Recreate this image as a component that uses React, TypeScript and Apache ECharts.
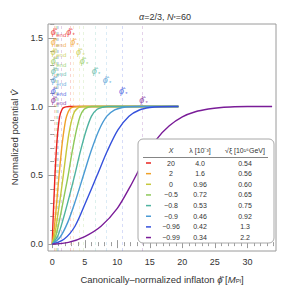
import React, { useEffect, useRef } from "react";
import * as echarts from "echarts";

// ---- data ----
const curveColors = ["#e8231f", "#f0a128", "#c5c83c", "#8ec95a", "#4fb3a0", "#4a9ad4", "#3551dc", "#7a1c98"];

const curveRed = [[0, 0], [0.1, 0.14], [0.21, 0.27], [0.32, 0.39], [0.42, 0.5], [0.63, 0.68], [0.84, 0.81], [1.05, 0.9], [1.26, 0.95], [1.47, 0.975], [1.68, 0.99], [2.1, 0.998], [2.6, 1], [19.4, 1]];
const curveOrange = [[0, 0], [0.26, 0.09], [0.53, 0.22], [0.79, 0.36], [1.05, 0.5], [1.31, 0.63], [1.58, 0.75], [1.84, 0.84], [2.1, 0.91], [2.36, 0.95], [2.63, 0.975], [2.89, 0.99], [3.36, 0.998], [4, 1], [19.4, 1]];
const curveYellow = [[0, 0], [0.43, 0.08], [0.85, 0.21], [1.28, 0.35], [1.7, 0.5], [2.13, 0.66], [2.55, 0.8], [2.98, 0.9], [3.4, 0.96], [3.83, 0.985], [4.25, 0.996], [4.8, 1], [19.4, 1]];
const curveGreen = [[0, 0], [0.61, 0.07], [1.23, 0.2], [1.84, 0.35], [2.45, 0.5], [3.06, 0.67], [3.68, 0.82], [4.29, 0.93], [4.9, 0.98], [5.5, 0.995], [6.1, 1], [19.4, 1]];
const curveTeal = [[0, 0], [0.86, 0.06], [1.73, 0.19], [2.59, 0.34], [3.45, 0.5], [4.31, 0.67], [5.18, 0.82], [6.04, 0.93], [6.9, 0.98], [7.76, 0.995], [8.6, 1], [19.4, 1]];
const curveLightBlue = [[0, 0], [1.2, 0.05], [2.4, 0.16], [3.6, 0.32], [4.8, 0.5], [6.0, 0.68], [7.2, 0.83], [8.4, 0.93], [9.6, 0.975], [10.8, 0.993], [12, 0.999], [13.4, 1], [19.4, 1]];
const curveBlue = [[0, 0], [1.8, 0.035], [3.5, 0.13], [5.2, 0.31], [6.9, 0.5], [8.5, 0.68], [10.1, 0.83], [11.8, 0.93], [13.4, 0.975], [15.0, 0.993], [16.7, 0.999], [18.8, 1], [19.4, 1]];
const curvePurple = [[0, 0], [2.5, 0.013], [5, 0.055], [7.5, 0.13], [10, 0.26], [12, 0.42], [14, 0.6], [16, 0.76], [18, 0.86], [20, 0.925], [22, 0.962], [24, 0.982], [26, 0.993], [28, 0.998], [30, 1], [33.8, 1]];
const curves = [curveRed, curveOrange, curveYellow, curveGreen, curveTeal, curveLightBlue, curveBlue, curvePurple];

const phiEnd = [0.26, 0.5, 0.6, 0.68, 0.72, 0.77, 0.85, 1.45];
const phiStar = [2.7, 3.3, 4.2, 4.75, 6.6, 8.3, 10.8, 13.9];
const labelHeights = [1.545, 1.472, 1.4, 1.33, 1.26, 1.19, 1.116, 1.049];
const endLabelPhi = 0.15;

const chiValues = ["20", "2", "0", "\u22120.5", "\u22120.8", "\u22120.9", "\u22120.96", "\u22120.99"];
const lambdaValues = ["4.0", "1.6", "0.96", "0.72", "0.53", "0.46", "0.42", "0.34"];
const sqrtXiValues = ["0.54", "0.56", "0.60", "0.65", "0.75", "0.92", "1.3", "2.2"];
const tableHeaders = ["X", "\u03bb [10\u207b\u00b3]", "\u221a\u03be [10\u00b9\u2076GeV]"];

const xMajorTicks = [0, 5, 10, 15, 20, 25, 30];
const yMajorTicks = [0, 0.5, 1, 1.5];
const xMinorTicks = Array.from({ length: 35 }, (_, i) => i);
const yMinorTicks = Array.from({ length: 17 }, (_, i) => Math.round(i * 10) / 100);

const FONT = "Liberation Sans, Arial, sans-serif";
const FRAME = "#9a9a9a";
const TEXT = "#333";

export default function App() {
  const ref = useRef<HTMLDivElement>(null);
  useEffect(() => {
    if (!ref.current) return;
    const chart = echarts.init(ref.current, undefined, { renderer: "svg" });
    const xMin = -0.65, xMax = 34.4, yMin = -0.05, yMax = 1.6;

    const mkX = (pos: string, ticks: number[], len: number, labels: boolean, extra: any = {}) => ({
      type: "value", min: xMin, max: xMax, position: pos,
      axisLine: { show: false },
      axisTick: { show: true, inside: true, length: len, customValues: ticks, lineStyle: { color: FRAME, width: 1 } },
      axisLabel: labels
        ? { show: true, customValues: ticks, color: TEXT, fontSize: 9, fontFamily: FONT, margin: 6 }
        : { show: false },
      splitLine: { show: false },
      ...extra,
    });
    const mkY = (pos: string, ticks: number[], len: number, labels: boolean, extra: any = {}) => ({
      type: "value", min: yMin, max: yMax, position: pos,
      axisLine: { show: false },
      axisTick: { show: true, inside: true, length: len, customValues: ticks, lineStyle: { color: FRAME, width: 1 } },
      axisLabel: labels
        ? { show: true, customValues: ticks, color: TEXT, fontSize: 9, fontFamily: FONT, margin: 5, formatter: (v: number) => v.toFixed(1) }
        : { show: false },
      splitLine: { show: false },
      ...extra,
    });

    const lineSeries = curves.map((c, i) => ({
      type: "line",
      data: c,
      xAxisIndex: 0,
      yAxisIndex: 0,
      showSymbol: false,
      smooth: 0.3,
      lineStyle: { color: curveColors[i], width: 1.4 },
      z: 3,
      silent: true,
      markLine: {
        silent: true,
        symbol: ["none", "none"],
        label: { show: false },
        lineStyle: { color: curveColors[i], type: [3, 3], width: 0.8, opacity: 0.25 },
        data: [{ xAxis: phiEnd[i] }, { xAxis: phiStar[i] }],
        z: 1,
      },
    }));

    const labelSeries = (xs: number[], text: string, fs: number, offset: number[], italic: boolean) => ({
      type: "scatter",
      xAxisIndex: 0,
      yAxisIndex: 0,
      symbolSize: 1,
      itemStyle: { color: "rgba(0,0,0,0)" },
      silent: true,
      z: 6,
      data: xs.map((x, i) => ({ value: [x, labelHeights[i]], label: { color: curveColors[i] } })),
      label: {
        show: true, position: "inside", formatter: text, fontSize: fs, fontFamily: FONT,
        fontStyle: italic ? "italic" : "normal", offset, align: "center", verticalAlign: "middle",
        opacity: 0.8,
      },
    });

    // legend table graphic
    const boxL = 138, boxT = 139, boxW = 136, boxH = 104;
    const colX = [171, 200, 245];
    const rowY0 = 163, rowDy = 10.65;
    const g: any[] = [
      { type: "rect", shape: { x: boxL, y: boxT, width: boxW, height: boxH, r: 5 }, style: { fill: "#fff", stroke: "#a8a8a8", lineWidth: 1 }, z: 100 },
      { type: "line", shape: { x1: 143, y1: 157.5, x2: 268, y2: 157.5 }, style: { stroke: "#666", lineWidth: 0.8 }, z: 101 },
    ];
    tableHeaders.forEach((h, j) => {
      g.push({ type: "text", x: colX[j], y: 150, style: { text: h, fill: TEXT, fontSize: 7, fontFamily: FONT, fontStyle: j === 0 ? "italic" : "normal", align: "center", verticalAlign: "middle" }, z: 101 });
    });
    chiValues.forEach((_, i) => {
      const y = rowY0 + i * rowDy;
      g.push({ type: "line", shape: { x1: 146, y1: y, x2: 151, y2: y }, style: { stroke: curveColors[i], lineWidth: 1.5 }, z: 101 });
      [chiValues[i], lambdaValues[i], sqrtXiValues[i]].forEach((t, j) => {
        g.push({ type: "text", x: colX[j], y, style: { text: t, fill: TEXT, fontSize: 7, fontFamily: FONT, align: "center", verticalAlign: "middle" }, z: 101 });
      });
    });

    chart.setOption({
      animation: false,
      backgroundColor: "#fff",
      title: {
        text: "{i|\u03b1}=2/3, {i|N}{s|*}=60",
        left: 160, top: 7, textAlign: "center",
        textStyle: {
          fontSize: 9, fontWeight: "normal", color: TEXT, fontFamily: FONT,
          rich: { i: { fontStyle: "italic", fontSize: 9, color: TEXT, fontFamily: FONT }, s: { fontSize: 6, verticalAlign: "bottom", color: TEXT, fontFamily: FONT } },
        },
      },
      grid: { left: 48, right: 13, top: 24, bottom: 41, show: true, borderColor: FRAME, borderWidth: 1, backgroundColor: "transparent" },
      xAxis: [
        mkX("bottom", xMajorTicks, 4, true, {
          name: "Canonically\u2013normalized inflaton {i|\u03d5\u0302} [{i|M}{s|Pl}]",
          nameLocation: "middle", nameGap: 23,
          nameTextStyle: {
            fontSize: 9.5, color: TEXT, fontFamily: FONT,
            rich: { i: { fontStyle: "italic", fontSize: 9.5, color: TEXT, fontFamily: FONT }, s: { fontSize: 6, verticalAlign: "bottom", color: TEXT, fontFamily: FONT } },
          },
        }),
        mkX("bottom", xMinorTicks, 2, false),
        mkX("top", xMajorTicks, 4, false),
        mkX("top", xMinorTicks, 2, false),
      ],
      yAxis: [
        mkY("left", yMajorTicks, 4, true, {
          name: "Normalized potential {i|V\u0302}",
          nameLocation: "middle", nameGap: 20, nameRotate: 90,
          nameTextStyle: {
            fontSize: 9.5, color: TEXT, fontFamily: FONT,
            rich: { i: { fontStyle: "italic", fontSize: 9.5, color: TEXT, fontFamily: FONT } },
          },
        }),
        mkY("left", yMinorTicks, 2, false),
        mkY("right", yMajorTicks, 4, false),
        mkY("right", yMinorTicks, 2, false),
      ],
      series: [
        ...lineSeries,
        labelSeries(phiEnd.map(() => endLabelPhi), "\u03d5\u0302", 9, [0, 0], true),
        labelSeries(phiEnd.map(() => endLabelPhi), "end", 6, [8, 3.5], false),
        labelSeries(phiStar, "\u03d5\u0302", 9, [-1, 0], true),
        labelSeries(phiStar, "*", 6, [4, 3], false),
      ],
      graphic: g,
    });
    return () => chart.dispose();
  }, []);
  return <div ref={ref} style={{ position: "fixed", left: 0, top: 0, width: 289, height: 292 }} />;
}
